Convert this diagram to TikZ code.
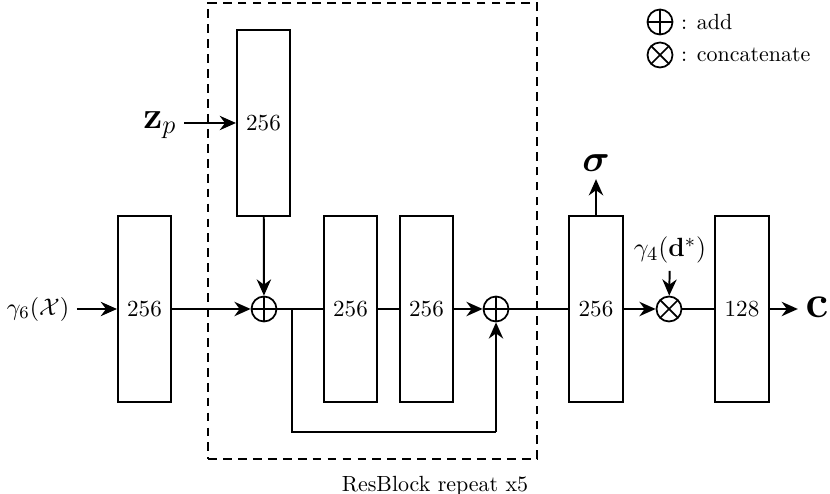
\documentclass[tikz,border=0pt]{standalone}
\usepackage{amsmath,amssymb,bm}
\usetikzlibrary{arrows.meta,positioning,calc}
\tikzset{
  >={Stealth[length=2.6mm,width=2.3mm]},
  layer/.style={draw, line width=0.9pt, minimum width=0.85cm, minimum height=2.98cm,
                inner sep=0pt, font=\fontsize{10.5}{12}\selectfont},
  addop/.style={circle, draw, line width=0.8pt, minimum size=0.4cm, inner sep=0pt,
                path picture={\draw[line width=0.8pt]
                  (path picture bounding box.north) -- (path picture bounding box.south)
                  (path picture bounding box.west) -- (path picture bounding box.east);}},
  catop/.style={circle, draw, line width=0.8pt, minimum size=0.4cm, inner sep=0pt,
                path picture={\draw[line width=0.8pt]
                  (path picture bounding box.north west) -- (path picture bounding box.south east)
                  (path picture bounding box.south west) -- (path picture bounding box.north east);}},
  link/.style={line width=0.9pt},
  flow/.style={->, line width=0.9pt},
  blockbox/.style={draw, line width=0.9pt, dash pattern=on 4pt off 2.8pt},
}

\begin{document}
\begin{tikzpicture}[x=0.016cm,y=-0.016cm]
  \useasboundingbox (0,0) rectangle (830,494);
  % resblock frame
  \node[blockbox, minimum width=5.26cm, minimum height=7.3cm, inner sep=0pt] (frame) at (372.5,231) {};
  \node[anchor=north] (rblbl) at (435,469) {ResBlock repeat x5};
  % layers
  \node[layer] (b1) at (144.5,309) {256};
  \node[layer] (btop) at (263.5,123) {256};
  \node[layer] (b2) at (350.5,309) {256};
  \node[layer] (b3) at (426.5,309) {256};
  \node[layer] (b4) at (596,309) {256};
  \node[layer] (b5) at (742,309) {128};
  % operators
  \node[addop] (add1) at (264,309) {};
  \node[addop] (add2) at (496,309) {};
  \node[catop] (cat) at (669,309) {};
  % inputs / outputs
  \node[font=\fontsize{11}{13}\selectfont] (in) at (38,309) {$\gamma_6(\mathcal{X})$};
  \node[font=\LARGE] (zp) at (160,125) {$\mathbf{z}_p$};
  \node[font=\fontsize{13}{15}\selectfont] (dir) at (670,250) {$\gamma_4(\mathbf{d}^*)$};
  \node[font=\LARGE] (sig) at (596,163) {$\bm{\sigma}$};
  \node[font=\huge] (out) at (817,307) {$\mathbf{c}$};
  \coordinate (split) at (292,309);
  \coordinate (skipL) at (292,432);
  \coordinate (skipR) at (496,432);
  % connectors
  \draw[flow] (in) -- (b1);
  \draw[flow] (zp.east |- btop) -- (btop);
  \draw[flow] (b1) -- (add1);
  \draw[flow] (btop) -- (add1);
  \draw[link] (add1) -- (b2);
  \draw[link] (b2) -- (b3);
  \draw[flow] (b3) -- (add2);
  \draw[link] (split) -- (skipL) -- (skipR);
  \draw[flow] (skipR) -- (add2);
  \draw[link] (add2) -- (b4);
  \draw[flow] (b4) -- (b4.north |- sig.south);
  \draw[flow] (b4) -- (cat);
  \draw[flow] (dir) -- (cat);
  \draw[link] (cat) -- (b5);
  \draw[flow] (b5) -- (b5 -| out.west);
  % legend
  \node[addop] (legadd) at (660,22) {};
  \node[catop] (legcat) at (660,55) {};
  \node[anchor=west] (legaddt) at (legadd.east) {: add};
  \node[anchor=west] (legcatt) at (legcat.east) {: concatenate};
\end{tikzpicture}
\end{document}
